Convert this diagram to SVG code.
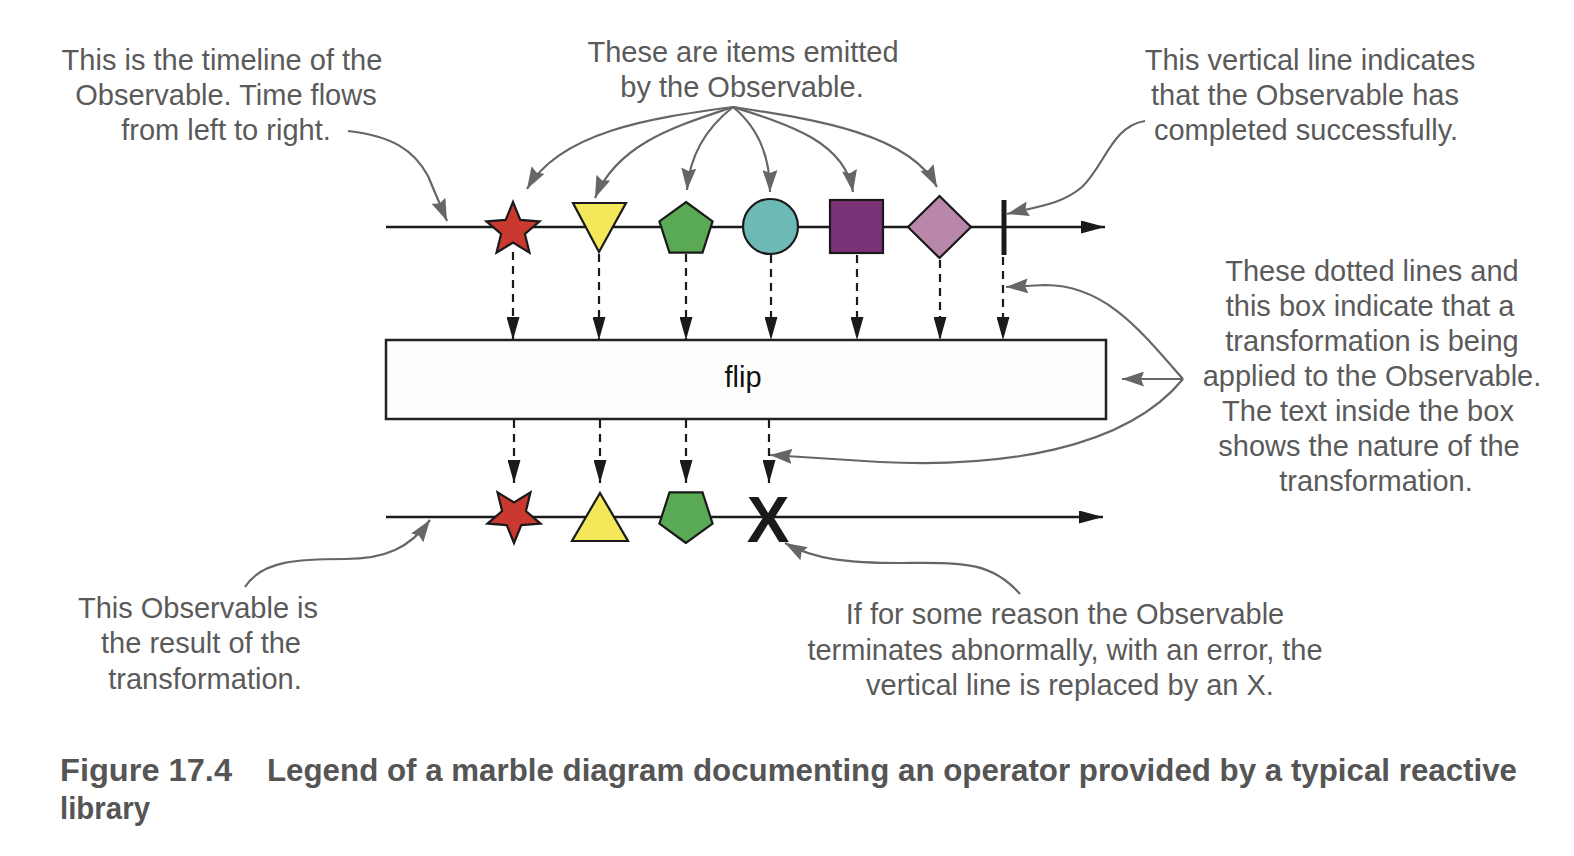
<svg xmlns="http://www.w3.org/2000/svg" width="1574" height="856" viewBox="0 0 1574 856">
<style>
.note{font-family:"Liberation Sans",Arial,sans-serif;font-size:29px;fill:#5a5a5a;text-anchor:middle}
.cap{font-family:"Liberation Sans",Arial,sans-serif;font-size:32px;font-weight:bold;fill:#555}
.tl{stroke:#1a1a1a;stroke-width:2.5;fill:none}
.dash{stroke:#1a1a1a;stroke-width:2.2;stroke-dasharray:8 6;fill:none}
.ann{stroke:#666;stroke-width:2.2;fill:none}
.shape{stroke:#1a1a1a;stroke-width:2.2}
</style>
<defs>
<marker id="blk" viewBox="0 0 23 13" refX="23" refY="6.5" markerWidth="23" markerHeight="13" markerUnits="userSpaceOnUse" orient="auto">
<path d="M0,0 L23,6.5 L0,13 Z" fill="#1a1a1a"/>
</marker>
<marker id="blkL" viewBox="0 0 24 13" refX="24" refY="6.5" markerWidth="24" markerHeight="13" markerUnits="userSpaceOnUse" orient="auto">
<path d="M0,0 L24,6.5 L0,13 Z" fill="#1a1a1a"/>
</marker>
<marker id="gry" viewBox="0 0 22 15" refX="22" refY="7.5" markerWidth="22" markerHeight="15" markerUnits="userSpaceOnUse" orient="auto">
<path d="M0,0 L22,7.5 L0,15 L3,7.5 Z" fill="#666"/>
</marker>
</defs>
<rect width="1574" height="856" fill="#fff"/>

<g id="connectors">
<line class="tl" x1="386" y1="227" x2="1105" y2="227" marker-end="url(#blkL)"/>
<line class="tl" x1="386" y1="517" x2="1103" y2="517" marker-end="url(#blkL)"/>
<line class="dash" x1="513" y1="252" x2="513" y2="340" marker-end="url(#blk)"/>
<line class="dash" x1="599" y1="254" x2="599" y2="340" marker-end="url(#blk)"/>
<line class="dash" x1="686" y1="254" x2="686" y2="340" marker-end="url(#blk)"/>
<line class="dash" x1="771" y1="255" x2="771" y2="340" marker-end="url(#blk)"/>
<line class="dash" x1="857" y1="255" x2="857" y2="340" marker-end="url(#blk)"/>
<line class="dash" x1="940" y1="260" x2="940" y2="340" marker-end="url(#blk)"/>
<line class="dash" x1="1003" y1="257" x2="1003" y2="340" marker-end="url(#blk)"/>
<line class="dash" x1="514" y1="420" x2="514" y2="483" marker-end="url(#blk)"/>
<line class="dash" x1="600" y1="420" x2="600" y2="483" marker-end="url(#blk)"/>
<line class="dash" x1="686" y1="420" x2="686" y2="483" marker-end="url(#blk)"/>
<line class="dash" x1="769" y1="420" x2="769" y2="483" marker-end="url(#blk)"/>
<path class="ann" d="M348,131 C392,136 414,150 428,176 L447,221" marker-end="url(#gry)"/>
<path class="ann" d="M733,107 C650,118 560,132 527,189" marker-end="url(#gry)"/>
<path class="ann" d="M733,107 C680,125 618,142 595,198" marker-end="url(#gry)"/>
<path class="ann" d="M733,107 C710,125 690,152 687,190" marker-end="url(#gry)"/>
<path class="ann" d="M733,107 C755,125 770,152 770,192" marker-end="url(#gry)"/>
<path class="ann" d="M733,107 C790,125 845,142 853,192" marker-end="url(#gry)"/>
<path class="ann" d="M733,107 C820,120 910,135 937,187" marker-end="url(#gry)"/>
<path class="ann" d="M1145,121 C1112,126 1105,165 1082,187 C1062,204 1040,206 1007,214" marker-end="url(#gry)"/>
<path class="ann" d="M1183,379 C1140,330 1105,285 1045,285 L1006,287" marker-end="url(#gry)"/>
<path class="ann" d="M1183,379 L1122,379" marker-end="url(#gry)"/>
<path class="ann" d="M1183,379 C1125,450 1000,468 880,462 C830,459 800,457 770,455" marker-end="url(#gry)"/>
<path class="ann" d="M245,587 C262,560 300,559 345,559 C385,559 410,548 430,520" marker-end="url(#gry)"/>
<path class="ann" d="M1020,594 C990,560 960,563 900,563 C850,563 815,560 785,543" marker-end="url(#gry)"/>
</g>

<g id="star-top"><polygon class="shape" fill="#c9392f" transform="translate(513,230)" points="0,-28 7.3,-10.1 26.6,-8.7 11.9,3.9 16.5,22.7 0,12.5 -16.5,22.7 -11.9,3.9 -26.6,-8.7 -7.3,-10.1"/></g>
<g id="triangle-top"><polygon class="shape" fill="#f4e85a" points="573,203 626,203 599,252"/></g>
<g id="pentagon-top"><polygon class="shape" fill="#5aa955" transform="translate(686,230)" points="0,-28 26.6,-8.7 16.5,22.7 -16.5,22.7 -26.6,-8.7"/></g>
<g id="circle-top"><circle class="shape" fill="#6db9b5" cx="770.5" cy="226.5" r="27.5"/></g>
<g id="square-top"><rect class="shape" fill="#7a3277" x="830" y="200" width="53" height="53"/></g>
<g id="diamond-top"><polygon class="shape" fill="#b887aa" points="939.5,196 971,227 939.5,258 908,227"/></g>
<g id="complete-bar"><line x1="1004" y1="200" x2="1004" y2="255" stroke="#1a1a1a" stroke-width="5"/></g>

<g id="flip-box">
<rect x="386" y="340" width="720" height="79" fill="#fdfdfb" stroke="#222" stroke-width="2.5"/>
<text x="743" y="387" font-family="Liberation Sans, Arial, sans-serif" font-size="29" fill="#111" text-anchor="middle">flip</text>
</g>

<g id="star-bottom"><polygon class="shape" fill="#c9392f" transform="translate(514,515) rotate(180)" points="0,-28 7.3,-10.1 26.6,-8.7 11.9,3.9 16.5,22.7 0,12.5 -16.5,22.7 -11.9,3.9 -26.6,-8.7 -7.3,-10.1"/></g>
<g id="triangle-bottom"><polygon class="shape" fill="#f4e85a" points="600,493 628,541 572,541"/></g>
<g id="pentagon-bottom"><polygon class="shape" fill="#5aa955" transform="translate(686,515) rotate(180)" points="0,-28 26.6,-8.7 16.5,22.7 -16.5,22.7 -26.6,-8.7"/></g>
<g id="error-x"><text x="768" y="542" font-family="Liberation Sans, Arial, sans-serif" font-size="64" font-weight="bold" fill="#1a1a1a" text-anchor="middle">X</text></g>

<g id="note-timeline">
<text class="note" x="222" y="70">This is the timeline of the</text>
<text class="note" x="226" y="105">Observable. Time flows</text>
<text class="note" x="226" y="140">from left to right.</text>
</g>
<g id="note-items">
<text class="note" x="743" y="62">These are items emitted</text>
<text class="note" x="742" y="97">by the Observable.</text>
</g>
<g id="note-complete">
<text class="note" x="1310" y="70">This vertical line indicates</text>
<text class="note" x="1305" y="105">that the Observable has</text>
<text class="note" x="1306" y="140">completed successfully.</text>
</g>
<g id="note-transform">
<text class="note" x="1372" y="281">These dotted lines and</text>
<text class="note" x="1370" y="316">this box indicate that a</text>
<text class="note" x="1372" y="351">transformation is being</text>
<text class="note" x="1372" y="386">applied to the Observable.</text>
<text class="note" x="1368" y="421">The text inside the box</text>
<text class="note" x="1369" y="456">shows the nature of the</text>
<text class="note" x="1376" y="491">transformation.</text>
</g>
<g id="note-result">
<text class="note" x="198" y="618">This Observable is</text>
<text class="note" x="201" y="653">the result of the</text>
<text class="note" x="205" y="689">transformation.</text>
</g>
<g id="note-error">
<text class="note" x="1065" y="624">If for some reason the Observable</text>
<text class="note" x="1065" y="660">terminates abnormally, with an error, the</text>
<text class="note" x="1070" y="695">vertical line is replaced by an X.</text>
</g>
<g id="caption">
<text class="cap" x="60" y="781" textLength="172" lengthAdjust="spacingAndGlyphs">Figure 17.4</text>
<text class="cap" x="267" y="781" textLength="1250" lengthAdjust="spacingAndGlyphs">Legend of a marble diagram documenting an operator provided by a typical reactive</text>
<text class="cap" x="60" y="819" textLength="90" lengthAdjust="spacingAndGlyphs">library</text>
</g>
</svg>
